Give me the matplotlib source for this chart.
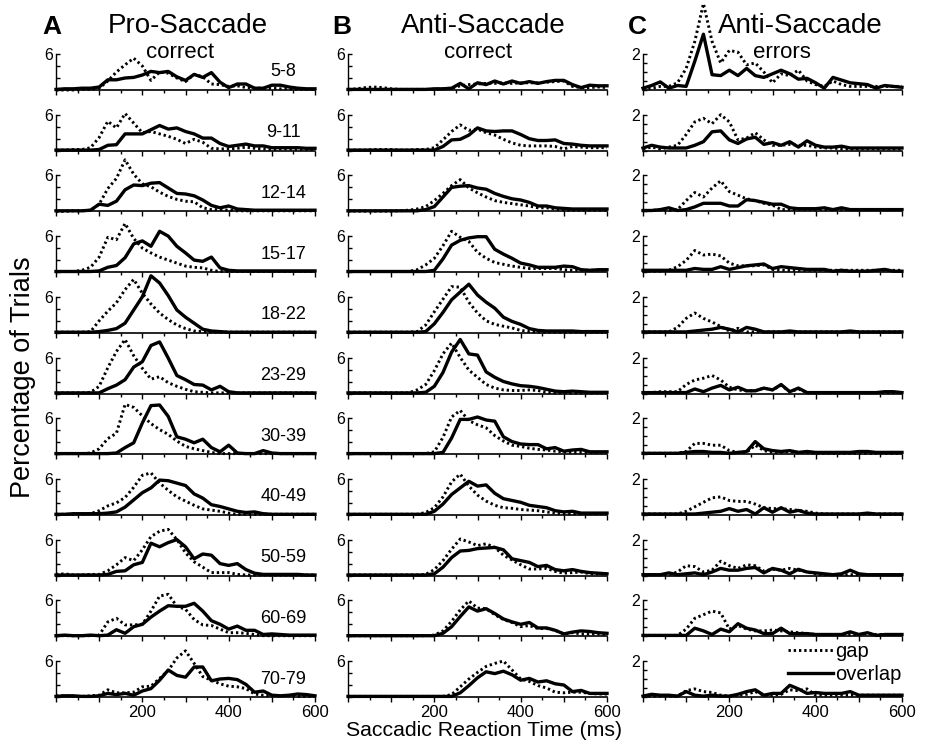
import numpy as np
import matplotlib.pyplot as plt
from matplotlib.ticker import MultipleLocator

plt.rcParams['font.family'] = ['Liberation Sans', 'DejaVu Sans']

# saccadic reaction time bins (ms)
rt = np.arange(0, 601, 20)

age_groups = ["5-8", "9-11", "12-14", "15-17", "18-22", "23-29",
              "30-39", "40-49", "50-59", "60-69", "70-79"]

# A: pro-saccade, correct (% of trials), one row per age group
pro_gap = [
    [0, 0, 0, 0.1, 0.1, 0.3, 1.5, 3.0, 4.2, 5.3, 4.0, 1.6, 3.0, 2.8, 2.0, 1.4, 2.6, 2.2, 1.0, 0.9, 0.6, 0.7, 0.4, 0.3, 0.3, 0.3, 0.2, 0.2, 0.1, 0.1, 0.1],
    [0.1, 0.1, 0.2, 0.2, 0.5, 2.2, 4.9, 3.8, 6.2, 4.6, 3.0, 3.2, 2.8, 2.4, 1.9, 1.2, 1.9, 1.4, 0.4, 0.3, 0.3, 0.4, 0.6, 0.4, 0.3, 0.2, 0.3, 0.3, 0.2, 0.2, 0.2],
    [0, 0, 0.1, 0.1, 0.2, 1.2, 3.8, 5.5, 8.6, 6.2, 4.6, 4.1, 3.2, 2.5, 2.0, 1.7, 1.6, 0.6, 0.3, 0.3, 0.2, 0.1, 0.1, 0.1, 0.1, 0.1, 0.1, 0.1, 0.1, 0.1, 0.1],
    [0.1, 0.1, 0.1, 0.3, 0.8, 2.5, 5.8, 5.4, 8.1, 5.6, 4.0, 3.2, 2.5, 2.0, 1.5, 1.0, 0.8, 0.7, 0.3, 0.1, 0.1, 0.1, 0.1, 0.1, 0.1, 0.1, 0.1, 0.1, 0.1, 0.1, 0.1],
    [0.1, 0.1, 0.1, 0.1, 0.2, 2.0, 3.6, 5.0, 7.2, 8.9, 6.6, 4.8, 3.3, 2.2, 1.3, 0.7, 0.3, 0.2, 0.1, 0.1, 0.1, 0.1, 0.1, 0.1, 0.1, 0.1, 0.1, 0.1, 0.1, 0.1, 0.1],
    [0.1, 0.1, 0.1, 0.1, 0.2, 1.2, 4.3, 7.0, 9.0, 6.3, 4.2, 2.4, 2.8, 1.8, 1.2, 0.7, 0.3, 0.2, 0.1, 0.1, 0.1, 0.1, 0.1, 0.1, 0.1, 0.1, 0.1, 0.1, 0.1, 0.1, 0.1],
    [0.1, 0.1, 0.1, 0.1, 0.2, 0.9, 2.6, 3.5, 8.3, 7.8, 6.4, 5.1, 4.1, 3.3, 2.2, 1.3, 0.9, 0.6, 0.3, 0.1, 0.1, 0.1, 0.1, 0.1, 0.1, 0.1, 0.1, 0.1, 0.1, 0.1, 0.1],
    [0.1, 0.1, 0.1, 0.1, 0.2, 0.7, 1.5, 2.0, 2.9, 4.6, 6.6, 7.0, 5.3, 4.1, 3.0, 2.3, 1.6, 1.0, 0.8, 0.6, 0.3, 0.1, 0.1, 0.1, 0.1, 0.1, 0.1, 0.1, 0.1, 0.1, 0.1],
    [0.2, 0.3, 0.1, 0.1, 0.2, 0.2, 0.8, 1.8, 3.0, 2.5, 4.3, 6.5, 7.4, 7.7, 6.0, 3.8, 2.3, 1.4, 0.5, 0.5, 0.5, 0.2, 0.1, 0.1, 0.1, 0.1, 0.1, 0.1, 0.1, 0.1, 0.1],
    [0.1, 0.1, 0.1, 0.1, 0.1, 0.2, 2.4, 3.0, 1.9, 1.9, 2.0, 4.2, 6.7, 7.0, 5.0, 4.5, 2.8, 1.9, 1.8, 1.2, 0.6, 0.6, 0.5, 0.3, 0.1, 0.1, 0.1, 0.1, 0.1, 0.1, 0.1],
    [0.2, 0.2, 0.1, 0.1, 0.2, 0.3, 1.2, 0.7, 0.7, 0.8, 1.7, 1.8, 3.1, 4.4, 6.5, 7.7, 5.6, 3.4, 2.8, 2.2, 1.8, 1.7, 1.4, 0.5, 0.3, 0.2, 0.2, 0.2, 0.1, 0.1, 0.1],
]
pro_overlap = [
    [0.1, 0.2, 0.2, 0.3, 0.3, 0.5, 1.7, 1.7, 2.0, 2.1, 2.5, 3.1, 2.9, 3.1, 2.2, 1.6, 2.6, 2.1, 2.9, 1.3, 0.4, 1.0, 1.0, 0.3, 0.3, 0.8, 0.8, 0.5, 0.3, 0.2, 0.2],
    [0.1, 0.1, 0.1, 0.1, 0.1, 0.2, 0.9, 1.0, 2.8, 2.8, 2.8, 3.5, 4.2, 3.6, 3.8, 3.2, 2.8, 2.1, 2.1, 1.2, 0.7, 0.9, 1.1, 0.8, 0.8, 0.5, 0.5, 0.5, 0.5, 0.4, 0.4],
    [0.1, 0.1, 0.1, 0.1, 0.2, 1.2, 1.0, 1.7, 3.6, 4.4, 4.3, 4.7, 4.8, 3.9, 3.0, 2.9, 2.6, 1.9, 1.0, 0.6, 0.9, 0.4, 0.3, 0.2, 0.2, 0.2, 0.2, 0.2, 0.2, 0.2, 0.2],
    [0.1, 0.1, 0.1, 0.1, 0.1, 0.2, 0.8, 1.1, 2.4, 4.7, 5.2, 4.3, 6.8, 6.0, 4.3, 3.2, 2.0, 1.8, 2.5, 0.7, 0.3, 0.2, 0.2, 0.2, 0.2, 0.2, 0.2, 0.2, 0.2, 0.2, 0.2],
    [0.1, 0.1, 0.1, 0.1, 0.1, 0.2, 0.4, 0.7, 1.6, 3.8, 6.0, 9.5, 8.3, 6.2, 3.8, 2.6, 1.6, 0.6, 0.3, 0.2, 0.1, 0.1, 0.1, 0.1, 0.1, 0.1, 0.1, 0.1, 0.1, 0.1, 0.1],
    [0.1, 0.1, 0.1, 0.1, 0.1, 0.1, 0.8, 1.4, 2.3, 4.4, 5.3, 8.0, 8.6, 5.9, 3.0, 2.3, 1.5, 1.4, 0.6, 1.2, 0.3, 0.1, 0.1, 0.1, 0.1, 0.1, 0.1, 0.1, 0.1, 0.1, 0.1],
    [0.1, 0.1, 0.1, 0.1, 0.1, 0.1, 0.1, 0.2, 1.1, 1.9, 5.2, 8.1, 8.2, 6.3, 2.9, 2.5, 1.9, 2.5, 1.1, 0.4, 1.5, 0.2, 0.1, 0.1, 0.6, 0.2, 0.1, 0.1, 0.1, 0.1, 0.1],
    [0.1, 0.1, 0.2, 0.2, 0.2, 0.2, 0.3, 0.5, 1.3, 2.5, 3.7, 4.5, 5.8, 5.7, 5.3, 4.9, 3.5, 2.8, 1.7, 1.4, 1.0, 0.6, 0.4, 0.5, 0.2, 0.1, 0.1, 0.1, 0.1, 0.1, 0.1],
    [0.1, 0.1, 0.1, 0.1, 0.1, 0.1, 0.2, 0.7, 0.8, 1.8, 2.2, 5.4, 4.8, 5.5, 6.0, 4.8, 2.8, 3.6, 3.4, 2.0, 1.7, 2.0, 1.0, 0.4, 0.2, 0.2, 0.2, 0.2, 0.2, 0.1, 0.1],
    [0.1, 0.2, 0.1, 0.1, 0.2, 0.1, 0.2, 1.1, 0.5, 1.6, 2.0, 3.2, 4.2, 5.1, 5.0, 5.0, 5.5, 4.2, 2.6, 2.0, 1.2, 1.7, 1.0, 1.0, 0.3, 0.4, 0.3, 0.2, 0.2, 0.2, 0.2],
    [0.1, 0.2, 0.2, 0.1, 0.1, 0.2, 0.6, 0.4, 0.6, 0.3, 1.0, 1.4, 2.8, 4.5, 3.6, 3.3, 5.0, 5.0, 2.7, 3.0, 3.1, 2.9, 2.1, 0.8, 1.0, 0.3, 0.2, 0.3, 0.5, 0.4, 0.2],
]

# B: anti-saccade, correct
anti_gap = [
    [0.1, 0.2, 0.4, 0.5, 0.4, 0.2, 0.1, 0.1, 0.1, 0.1, 0.1, 0.2, 0.3, 0.7, 0.9, 1.0, 1.1, 1.1, 1.2, 1.1, 1.2, 1.2, 1.2, 1.3, 1.4, 1.5, 0.6, 0.4, 0.4, 0.5, 0.4],
    [0.1, 0.1, 0.1, 0.2, 0.2, 0.2, 0.1, 0.1, 0.2, 0.2, 0.5, 1.8, 3.2, 4.3, 3.4, 3.6, 3.0, 2.6, 1.9, 1.3, 0.9, 0.8, 0.8, 0.8, 0.7, 0.3, 0.7, 0.6, 0.5, 0.5, 0.5],
    [0.05, 0.05, 0.05, 0.05, 0.05, 0.05, 0.1, 0.2, 0.4, 0.8, 1.8, 3.0, 4.3, 5.3, 3.9, 3.1, 2.4, 1.8, 1.5, 1.3, 1.1, 0.9, 0.6, 0.6, 0.4, 0.2, 0.2, 0.2, 0.2, 0.2, 0.2],
    [0.1, 0.1, 0.1, 0.1, 0.1, 0.1, 0.1, 0.1, 0.4, 1.2, 2.3, 4.4, 6.8, 5.8, 5.1, 3.3, 2.3, 1.6, 1.3, 1.0, 0.8, 0.6, 0.6, 0.6, 0.6, 0.4, 0.3, 0.3, 0.3, 0.3, 0.3],
    [0.1, 0.1, 0.1, 0.1, 0.1, 0.1, 0.1, 0.1, 0.2, 1.3, 3.5, 5.6, 7.7, 7.6, 5.1, 3.3, 2.0, 1.4, 1.1, 0.8, 0.4, 0.2, 0.1, 0.1, 0.1, 0.1, 0.1, 0.1, 0.1, 0.1, 0.1],
    [0.1, 0.1, 0.1, 0.1, 0.1, 0.1, 0.1, 0.1, 0.6, 1.5, 3.8, 6.6, 8.4, 6.0, 3.9, 2.7, 1.5, 0.9, 0.6, 0.5, 0.5, 0.6, 0.5, 0.2, 0.1, 0.1, 0.1, 0.1, 0.1, 0.1, 0.1],
    [0.1, 0.1, 0.1, 0.1, 0.1, 0.1, 0.1, 0.1, 0.1, 0.1, 0.4, 2.8, 6.2, 7.3, 5.6, 4.9, 4.4, 3.1, 2.2, 1.5, 1.3, 1.0, 0.8, 0.7, 0.5, 0.4, 0.3, 0.3, 0.3, 0.3, 0.3],
    [0.1, 0.1, 0.1, 0.1, 0.1, 0.1, 0.1, 0.1, 0.1, 0.4, 1.2, 3.0, 5.5, 6.8, 4.8, 3.3, 2.3, 1.6, 1.2, 1.1, 0.9, 0.8, 0.7, 0.5, 0.3, 0.2, 0.2, 0.2, 0.2, 0.2, 0.2],
    [0.1, 0.1, 0.1, 0.1, 0.1, 0.1, 0.1, 0.1, 0.1, 0.2, 1.0, 2.5, 4.4, 6.1, 5.6, 5.0, 5.3, 4.7, 3.4, 2.6, 1.8, 1.1, 1.1, 1.2, 0.7, 0.4, 0.5, 0.6, 0.3, 0.3, 0.3],
    [0.1, 0.1, 0.1, 0.1, 0.1, 0.1, 0.1, 0.1, 0.1, 0.1, 0.2, 0.9, 2.5, 4.4, 5.9, 4.7, 4.6, 3.6, 2.8, 2.3, 1.6, 1.8, 1.3, 1.3, 1.0, 0.4, 0.6, 0.4, 0.4, 0.4, 0.3],
    [0.1, 0.1, 0.1, 0.1, 0.1, 0.1, 0.1, 0.1, 0.1, 0.1, 0.1, 0.1, 0.4, 1.7, 3.0, 4.1, 5.1, 5.6, 6.0, 4.5, 3.0, 2.6, 1.9, 1.5, 0.8, 0.7, 0.8, 0.8, 0.6, 0.5, 0.5],
]
anti_overlap = [
    [0.1, 0.1, 0.1, 0.1, 0.1, 0.1, 0.1, 0.1, 0.1, 0.1, 0.2, 0.2, 0.3, 1.1, 0.2, 1.2, 0.9, 1.5, 1.0, 1.5, 1.1, 1.4, 1.1, 1.4, 1.6, 1.6, 0.9, 0.4, 0.8, 0.7, 0.7],
    [0.1, 0.1, 0.1, 0.1, 0.1, 0.1, 0.1, 0.1, 0.1, 0.1, 0.1, 0.7, 1.8, 1.9, 2.6, 3.8, 3.3, 3.2, 3.3, 3.3, 2.7, 2.0, 1.7, 1.7, 1.8, 1.2, 1.1, 0.9, 0.8, 0.8, 0.8],
    [0.1, 0.1, 0.1, 0.1, 0.1, 0.1, 0.1, 0.1, 0.1, 0.3, 0.8, 2.4, 4.0, 4.2, 4.3, 3.9, 3.7, 3.0, 2.5, 2.1, 1.9, 1.5, 0.9, 0.9, 0.6, 0.5, 0.4, 0.4, 0.4, 0.4, 0.4],
    [0.1, 0.1, 0.1, 0.1, 0.1, 0.1, 0.1, 0.1, 0.1, 0.1, 0.3, 2.2, 4.5, 5.3, 5.7, 5.9, 5.9, 3.8, 3.0, 2.3, 1.5, 1.2, 0.8, 0.8, 0.8, 1.0, 0.9, 0.4, 0.3, 0.4, 0.4],
    [0.1, 0.1, 0.1, 0.1, 0.1, 0.1, 0.1, 0.1, 0.1, 0.2, 1.5, 3.4, 5.5, 6.8, 8.1, 6.3, 5.1, 4.1, 2.6, 1.9, 1.4, 0.7, 0.4, 0.3, 0.3, 0.3, 0.3, 0.2, 0.2, 0.2, 0.2],
    [0.1, 0.1, 0.1, 0.1, 0.1, 0.1, 0.1, 0.1, 0.1, 0.2, 1.2, 3.5, 6.9, 9.0, 6.6, 6.4, 3.6, 2.7, 2.0, 1.6, 1.3, 1.2, 1.0, 0.7, 0.4, 0.3, 0.4, 0.3, 0.2, 0.2, 0.2],
    [0.1, 0.1, 0.1, 0.1, 0.1, 0.1, 0.1, 0.1, 0.1, 0.1, 0.1, 0.3, 2.7, 5.8, 5.8, 6.2, 5.7, 5.5, 2.9, 2.1, 1.7, 1.6, 1.6, 0.9, 1.1, 0.5, 0.7, 0.8, 0.4, 0.4, 0.4],
    [0.1, 0.1, 0.1, 0.1, 0.1, 0.1, 0.1, 0.1, 0.1, 0.1, 0.6, 1.8, 3.4, 4.5, 5.6, 4.8, 5.0, 3.6, 2.7, 2.4, 2.1, 1.6, 1.4, 1.2, 0.7, 0.5, 0.6, 0.3, 0.3, 0.3, 0.3],
    [0.1, 0.1, 0.1, 0.1, 0.1, 0.1, 0.1, 0.1, 0.1, 0.1, 0.3, 1.4, 3.0, 4.1, 4.2, 4.5, 4.6, 4.7, 4.3, 2.8, 2.5, 2.2, 1.5, 1.7, 1.0, 0.8, 1.0, 0.7, 0.5, 0.4, 0.3],
    [0.1, 0.1, 0.1, 0.1, 0.1, 0.1, 0.1, 0.1, 0.1, 0.1, 0.1, 0.5, 1.6, 3.3, 4.9, 4.2, 4.6, 3.8, 2.9, 2.4, 2.0, 2.3, 1.4, 1.4, 1.0, 0.4, 0.7, 0.9, 0.8, 0.6, 0.5],
    [0.1, 0.1, 0.1, 0.1, 0.1, 0.1, 0.1, 0.1, 0.1, 0.1, 0.1, 0.1, 0.1, 0.7, 1.9, 3.2, 4.2, 3.9, 4.3, 3.7, 2.8, 3.1, 2.5, 2.7, 2.2, 2.0, 0.9, 1.1, 0.6, 0.6, 0.6],
]

# C: anti-saccade, errors
err_gap = [
    [0.1, 0.1, 0.2, 0.2, 0.4, 1.2, 2.7, 4.8, 2.7, 1.5, 2.2, 2.1, 1.4, 1.5, 1.0, 0.4, 0.9, 0.8, 1.1, 0.5, 0.3, 0.2, 0.5, 0.3, 0.2, 0.2, 0.2, 0.2, 0.2, 0.2, 0.2],
    [0.1, 0.2, 0.1, 0.2, 0.3, 0.9, 1.6, 1.8, 1.5, 2.0, 1.6, 0.6, 0.7, 1.0, 0.6, 0.3, 0.3, 0.35, 0.3, 0.3, 0.2, 0.15, 0.15, 0.1, 0.1, 0.1, 0.1, 0.1, 0.1, 0.1, 0.1],
    [0.05, 0.05, 0.1, 0.05, 0.1, 0.6, 1.05, 0.8, 1.3, 1.7, 1.1, 0.9, 0.7, 0.6, 0.45, 0.35, 0.1, 0.1, 0.1, 0.1, 0.1, 0.1, 0.1, 0.1, 0.1, 0.1, 0.1, 0.1, 0.1, 0.1, 0.1],
    [0.05, 0.05, 0.05, 0.1, 0.3, 0.65, 1.2, 0.95, 1.0, 0.9, 0.5, 0.35, 0.35, 0.35, 0.4, 0.15, 0.1, 0.1, 0.1, 0.1, 0.1, 0.1, 0.1, 0.1, 0.1, 0.1, 0.1, 0.1, 0.1, 0.1, 0.1],
    [0.05, 0.05, 0.05, 0.05, 0.3, 0.8, 1.1, 0.8, 0.6, 0.35, 0.1, 0.25, 0.05, 0.05, 0.05, 0.05, 0.05, 0.05, 0.05, 0.05, 0.05, 0.05, 0.05, 0.05, 0.05, 0.05, 0.05, 0.05, 0.05, 0.05, 0.05],
    [0.05, 0.05, 0.1, 0.1, 0.1, 0.5, 0.75, 0.85, 1.0, 0.75, 0.35, 0.2, 0.15, 0.15, 0.3, 0.2, 0.45, 0.1, 0.25, 0.05, 0.05, 0.05, 0.05, 0.05, 0.05, 0.05, 0.05, 0.05, 0.05, 0.05, 0.05],
    [0.05, 0.05, 0.05, 0.05, 0.05, 0.15, 0.6, 0.6, 0.5, 0.5, 0.2, 0.1, 0.1, 0.5, 0.2, 0.1, 0.1, 0.15, 0.1, 0.1, 0.05, 0.05, 0.05, 0.05, 0.05, 0.05, 0.05, 0.05, 0.05, 0.05, 0.05],
    [0.05, 0.05, 0.05, 0.05, 0.05, 0.2, 0.45, 0.7, 0.95, 1.0, 0.8, 0.75, 0.75, 0.6, 0.4, 0.35, 0.35, 0.3, 0.25, 0.2, 0.1, 0.05, 0.05, 0.05, 0.05, 0.05, 0.05, 0.05, 0.05, 0.05, 0.05],
    [0.05, 0.05, 0.05, 0.05, 0.2, 0.55, 0.5, 0.2, 0.3, 0.8, 0.55, 0.4, 0.6, 0.55, 0.25, 0.35, 0.3, 0.4, 0.3, 0.2, 0.1, 0.05, 0.05, 0.05, 0.05, 0.05, 0.05, 0.05, 0.05, 0.05, 0.05],
    [0.05, 0.05, 0.05, 0.05, 0.05, 0.4, 1.0, 1.2, 1.4, 1.3, 0.4, 0.6, 0.4, 0.3, 0.3, 0.35, 0.3, 0.25, 0.2, 0.15, 0.1, 0.1, 0.1, 0.1, 0.1, 0.1, 0.15, 0.1, 0.1, 0.1, 0.1],
    [0.05, 0.05, 0.05, 0.05, 0.05, 0.35, 0.45, 0.3, 0.25, 0.1, 0.05, 0.1, 0.15, 0.3, 0.1, 0.1, 0.15, 0.4, 0.35, 0.45, 0.1, 0.1, 0.1, 0.1, 0.1, 0.1, 0.1, 0.1, 0.1, 0.1, 0.1],
]
err_overlap = [
    [0.1, 0.25, 0.45, 0.1, 0.25, 0.2, 1.6, 3.1, 0.85, 0.8, 1.1, 0.8, 1.2, 0.8, 0.7, 0.9, 1.1, 0.9, 0.6, 0.65, 0.4, 0.1, 0.7, 0.55, 0.4, 0.35, 0.3, 0.1, 0.25, 0.2, 0.15],
    [0.15, 0.3, 0.2, 0.15, 0.15, 0.15, 0.3, 0.5, 1.05, 1.1, 0.6, 0.4, 0.65, 0.75, 0.35, 0.45, 0.3, 0.5, 0.2, 0.55, 0.3, 0.2, 0.2, 0.25, 0.15, 0.15, 0.15, 0.15, 0.15, 0.15, 0.15],
    [0.05, 0.05, 0.1, 0.2, 0.05, 0.1, 0.25, 0.45, 0.45, 0.45, 0.3, 0.3, 0.65, 0.6, 0.5, 0.4, 0.4, 0.2, 0.15, 0.15, 0.15, 0.2, 0.1, 0.2, 0.1, 0.1, 0.1, 0.1, 0.1, 0.1, 0.1],
    [0.1, 0.1, 0.1, 0.1, 0.1, 0.1, 0.2, 0.15, 0.15, 0.3, 0.15, 0.25, 0.35, 0.4, 0.45, 0.2, 0.3, 0.25, 0.2, 0.15, 0.15, 0.15, 0.05, 0.1, 0.05, 0.05, 0.05, 0.1, 0.15, 0.05, 0.05],
    [0.05, 0.05, 0.05, 0.05, 0.05, 0.05, 0.1, 0.15, 0.2, 0.3, 0.2, 0.05, 0.3, 0.2, 0.05, 0.05, 0.05, 0.1, 0.05, 0.05, 0.05, 0.05, 0.05, 0.05, 0.1, 0.05, 0.05, 0.05, 0.05, 0.05, 0.05],
    [0.05, 0.05, 0.05, 0.05, 0.05, 0.05, 0.25, 0.1, 0.3, 0.45, 0.2, 0.35, 0.15, 0.15, 0.3, 0.2, 0.5, 0.1, 0.3, 0.05, 0.05, 0.05, 0.05, 0.05, 0.05, 0.05, 0.05, 0.05, 0.1, 0.1, 0.05],
    [0.05, 0.05, 0.05, 0.05, 0.05, 0.1, 0.15, 0.15, 0.1, 0.1, 0.05, 0.1, 0.15, 0.7, 0.3, 0.2, 0.15, 0.2, 0.1, 0.15, 0.1, 0.1, 0.1, 0.1, 0.1, 0.15, 0.15, 0.1, 0.1, 0.1, 0.1],
    [0.05, 0.05, 0.05, 0.05, 0.05, 0.05, 0.05, 0.1, 0.15, 0.2, 0.35, 0.2, 0.3, 0.05, 0.4, 0.15, 0.4, 0.15, 0.25, 0.1, 0.05, 0.05, 0.05, 0.05, 0.05, 0.05, 0.1, 0.05, 0.05, 0.05, 0.05],
    [0.05, 0.05, 0.05, 0.15, 0.05, 0.1, 0.15, 0.05, 0.2, 0.4, 0.3, 0.3, 0.4, 0.45, 0.15, 0.4, 0.3, 0.1, 0.35, 0.2, 0.15, 0.1, 0.05, 0.1, 0.3, 0.1, 0.05, 0.05, 0.05, 0.05, 0.05],
    [0.05, 0.05, 0.05, 0.05, 0.05, 0.05, 0.45, 0.3, 0.1, 0.4, 0.25, 0.7, 0.45, 0.35, 0.15, 0.15, 0.45, 0.15, 0.15, 0.15, 0.1, 0.1, 0.1, 0.1, 0.25, 0.1, 0.2, 0.05, 0.1, 0.1, 0.1],
    [0.05, 0.15, 0.1, 0.1, 0.05, 0.3, 0.1, 0.05, 0.1, 0.05, 0.05, 0.15, 0.3, 0.4, 0.1, 0.2, 0.2, 0.65, 0.45, 0.2, 0.25, 0.2, 0.2, 0.2, 0.3, 0.1, 0.1, 0.1, 0.1, 0.1, 0.1],
]

panels = [
    ("A", "Pro-Saccade", "correct", pro_gap, pro_overlap, 6),
    ("B", "Anti-Saccade", "correct", anti_gap, anti_overlap, 6),
    ("C", "Anti-Saccade", "errors", err_gap, err_overlap, 2),
]

# layout in pixels
W, H = 926, 742
col_left = [56, 348, 643]
col_w = 259
ax_h = 36
row_base = [90 + 60.7 * i for i in range(11)]
letter_x = [52, 342, 637]
title_x = [188, 483, 800]
sub_x = [180, 478, 782]

fig = plt.figure(figsize=(W / 100, H / 100), dpi=100)

for c, (letter, title, sub, gap, overlap, ymax) in enumerate(panels):
    for r in range(11):
        ax = fig.add_axes([col_left[c] / W, 1 - row_base[r] / H, col_w / W, ax_h / H])
        ax.plot(rt, gap[r], color='black', lw=2.1, ls=(0, (0.8, 1.0)),
                clip_on=False, label='gap')
        ax.plot(rt, overlap[r], color='black', lw=2.4, clip_on=False,
                label='overlap', solid_joinstyle='round')
        ax.set_xlim(0, 600)
        ax.set_ylim(0, ymax)
        for s in ('top', 'right'):
            ax.spines[s].set_visible(False)
        ax.spines['left'].set_linewidth(1.0)
        ax.spines['bottom'].set_linewidth(1.2)
        ax.patch.set_visible(False)

        ax.xaxis.set_major_locator(MultipleLocator(100))
        ax.xaxis.set_minor_locator(MultipleLocator(50))
        ax.tick_params(axis='x', which='major', direction='out', length=3.5, width=1)
        ax.tick_params(axis='x', which='minor', direction='out', length=2.5, width=1)
        if r == 10:
            ax.set_xticks([0, 100, 200, 300, 400, 500, 600])
            ax.set_xticklabels(['', '', '200', '', '400', '', '600'], fontsize=12)
            ax.tick_params(axis='x', pad=2)
        else:
            ax.set_xticklabels([])

        step = 2 if ymax == 6 else 0.5
        yt = np.arange(0, ymax + 0.01, step)
        ax.set_yticks(yt)
        ax.set_yticklabels([''] * (len(yt) - 1) + [str(ymax)], fontsize=11.5)
        ax.tick_params(axis='y', direction='in', length=3, width=1, pad=2)

        if c == 0:
            ax.text(527, ymax * 0.5, age_groups[r], ha='center', va='center', fontsize=13)

        if c == 2 and r == 10:
            ax.legend(loc='upper right', bbox_to_anchor=(902 / W, 1 - 642 / H),
                      bbox_transform=fig.transFigure, frameon=False, fontsize=14.5,
                      handlelength=2.2, handletextpad=0.15, labelspacing=0.2,
                      borderpad=0, borderaxespad=0)

    fig.text(letter_x[c] / W, 1 - 27 / H, letter, ha='center', va='center',
             fontsize=19, fontweight='bold')
    fig.text(title_x[c] / W, 1 - 26 / H, title, ha='center', va='center', fontsize=20)
    fig.text(sub_x[c] / W, 1 - 53 / H, sub, ha='center', va='center', fontsize=16)

fig.text(23 / W, 1 - 377 / H, "Percentage of Trials", rotation=90,
         ha='center', va='center', fontsize=19.5)
fig.text(484 / W, 1 - 730 / H, "Saccadic Reaction Time (ms)",
         ha='center', va='center', fontsize=15.3)

fig.savefig("out.png", dpi=100)
